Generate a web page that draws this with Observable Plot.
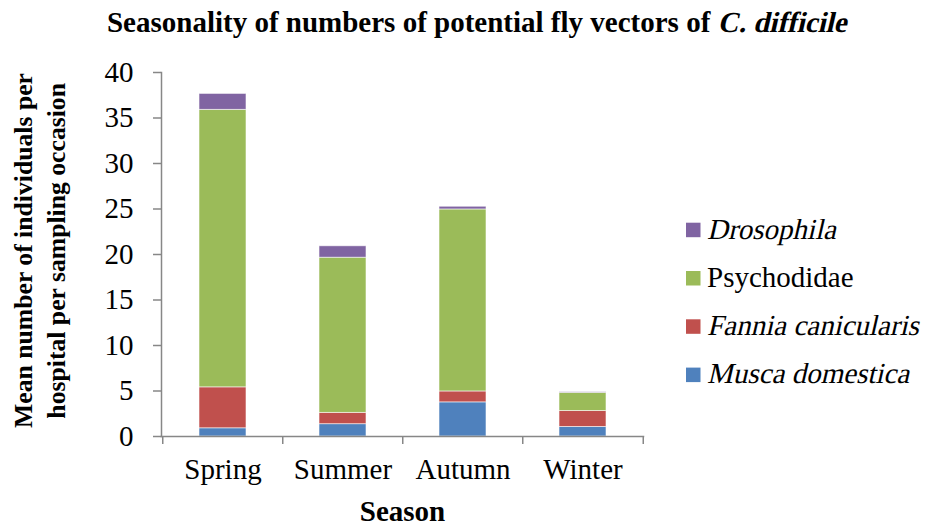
<!DOCTYPE html>
<html>
<head>
<meta charset="utf-8">
<script src="https://cdn.jsdelivr.net/npm/d3@7"></script>
<script src="https://cdn.jsdelivr.net/npm/@observablehq/plot@0.6"></script>
<style>
  html, body { margin: 0; padding: 0; background: #fff; }
  #chart svg { display: block; }
</style>
</head>
<body>
<div id="chart"></div>
<script>
// ---- data ----
const seasons = ["Spring", "Summer", "Autumn", "Winter"];
const species = ["Musca domestica", "Fannia canicularis", "Psychodidae", "Drosophila"];
const speciesItalic = [true, true, false, true];
const speciesColors = ["#4F81BD", "#C0504D", "#9BBB59", "#8064A2"];
const musca = [0.9, 1.35, 3.75, 1.05];
const fannia = [4.5, 1.25, 1.2, 1.75];
const psychodidae = [30.5, 17.05, 20.0, 2.0];
const drosophila = [1.75, 1.25, 0.3, 0.07];
const yTicks = [0, 5, 10, 15, 20, 25, 30, 35, 40];
const titleMain = "Seasonality of numbers of potential fly vectors of ";
const titleItalic = "C. difficile";
const yLabelLines = ["Mean number of individuals per", "hospital per sampling occasion"];
const xLabel = "Season";

const seriesValues = [musca, fannia, psychodidae, drosophila];
const table = [];
species.forEach((sp, si) => seasons.forEach((s, i) => table.push({season: s, species: sp, value: seriesValues[si][i]})));

const W = 933, H = 526;
const mL = 161, mR = 290, mT = 72, mB = 90;
const pInner = 0.61, pOuter = 0.305;
const step = (W - mL - mR) / (seasons.length - pInner + 2 * pOuter);
const axisGrey = "#878787";
const font = "Liberation Serif";
const fs = 29;

const chart = Plot.plot({
  width: W, height: H,
  marginLeft: mL, marginRight: mR, marginTop: mT, marginBottom: mB,
  style: {fontFamily: font, fontSize: fs + "px", color: "#000", background: "#fff"},
  x: {domain: seasons, paddingInner: pInner, paddingOuter: pOuter, label: null},
  y: {domain: [0, 40], label: null},
  color: {domain: species, range: speciesColors},
  marks: [
    Plot.barY(table, {x: "season", y: "value", fill: "species", order: species,
      stroke: "#fff", strokeWidth: 0.8, strokeOpacity: 0.7}),
    Plot.axisY({ticks: yTicks, tickSize: 8, tickPadding: 20, stroke: axisGrey, strokeWidth: 1.5,
      fill: "#000", fontSize: fs, label: null}),
    Plot.axisX({tickSize: 0, tickPadding: 22, fill: "#000", fontSize: fs, label: null}),
    Plot.frame({anchor: "left", stroke: axisGrey, strokeWidth: 1.5}),
    Plot.frame({anchor: "bottom", stroke: axisGrey, strokeWidth: 1.5}),
    Plot.ruleX(seasons, {x: d => d, dx: -step / 2, y1: 0, y2: -0.88, stroke: axisGrey, strokeWidth: 1.5}),
    Plot.ruleX(seasons.slice(-1), {x: d => d, dx: step / 2, y1: 0, y2: -0.88, stroke: axisGrey, strokeWidth: 1.5})
  ]
});
document.getElementById("chart").appendChild(chart);

const svg = d3.select(chart);
const g = svg.append("g").attr("font-family", font).attr("fill", "#000").attr("text-anchor", "start");

// title: bold part + bold-italic part (italic slant applied as skew)
const titleSize = 29;
const tMain = g.append("text").attr("y", 31.5).attr("font-size", titleSize).attr("font-weight", "bold").text(titleMain);
const tIt = g.append("text").attr("font-size", titleSize).attr("font-weight", "bold").text(titleItalic);
const wMain = tMain.node().getComputedTextLength();
const wIt = tIt.node().getComputedTextLength();
const tx0 = 476.7 - (wMain + wIt) / 2;
tMain.attr("x", tx0);
tIt.attr("transform", `translate(${tx0 + wMain},31.5) skewX(-13)`);

// y label (two rotated lines; ends near top as in reference)
const ylBase = [31.5, 64.5];
const ylTop = [73, 83];
yLabelLines.forEach((line, i) => {
  const el = g.append("text").attr("font-size", 25.7).attr("font-weight", "bold").attr("text-anchor", "end").text(line);
  el.attr("transform", `translate(${ylBase[i]},${ylTop[i]}) rotate(-90)`);
});

// x label
g.append("text").attr("x", 402.5).attr("y", 521).attr("text-anchor", "middle")
  .attr("font-size", fs).attr("font-weight", "bold").text(xLabel);

// legend (top entry = top of stack)
const legendOrder = [3, 2, 1, 0];
legendOrder.forEach((si, row) => {
  const top = 222.7 + row * 48.3;
  g.append("rect").attr("x", 686).attr("y", top).attr("width", 14.5).attr("height", 14.5)
    .attr("fill", speciesColors[si]);
  g.append("text").attr("transform", `translate(707,${top + 15.8})${speciesItalic[si] ? " skewX(-13)" : ""}`)
    .attr("font-size", fs).attr("text-anchor", "start").text(species[si]);
});
</script>
</body>
</html>
